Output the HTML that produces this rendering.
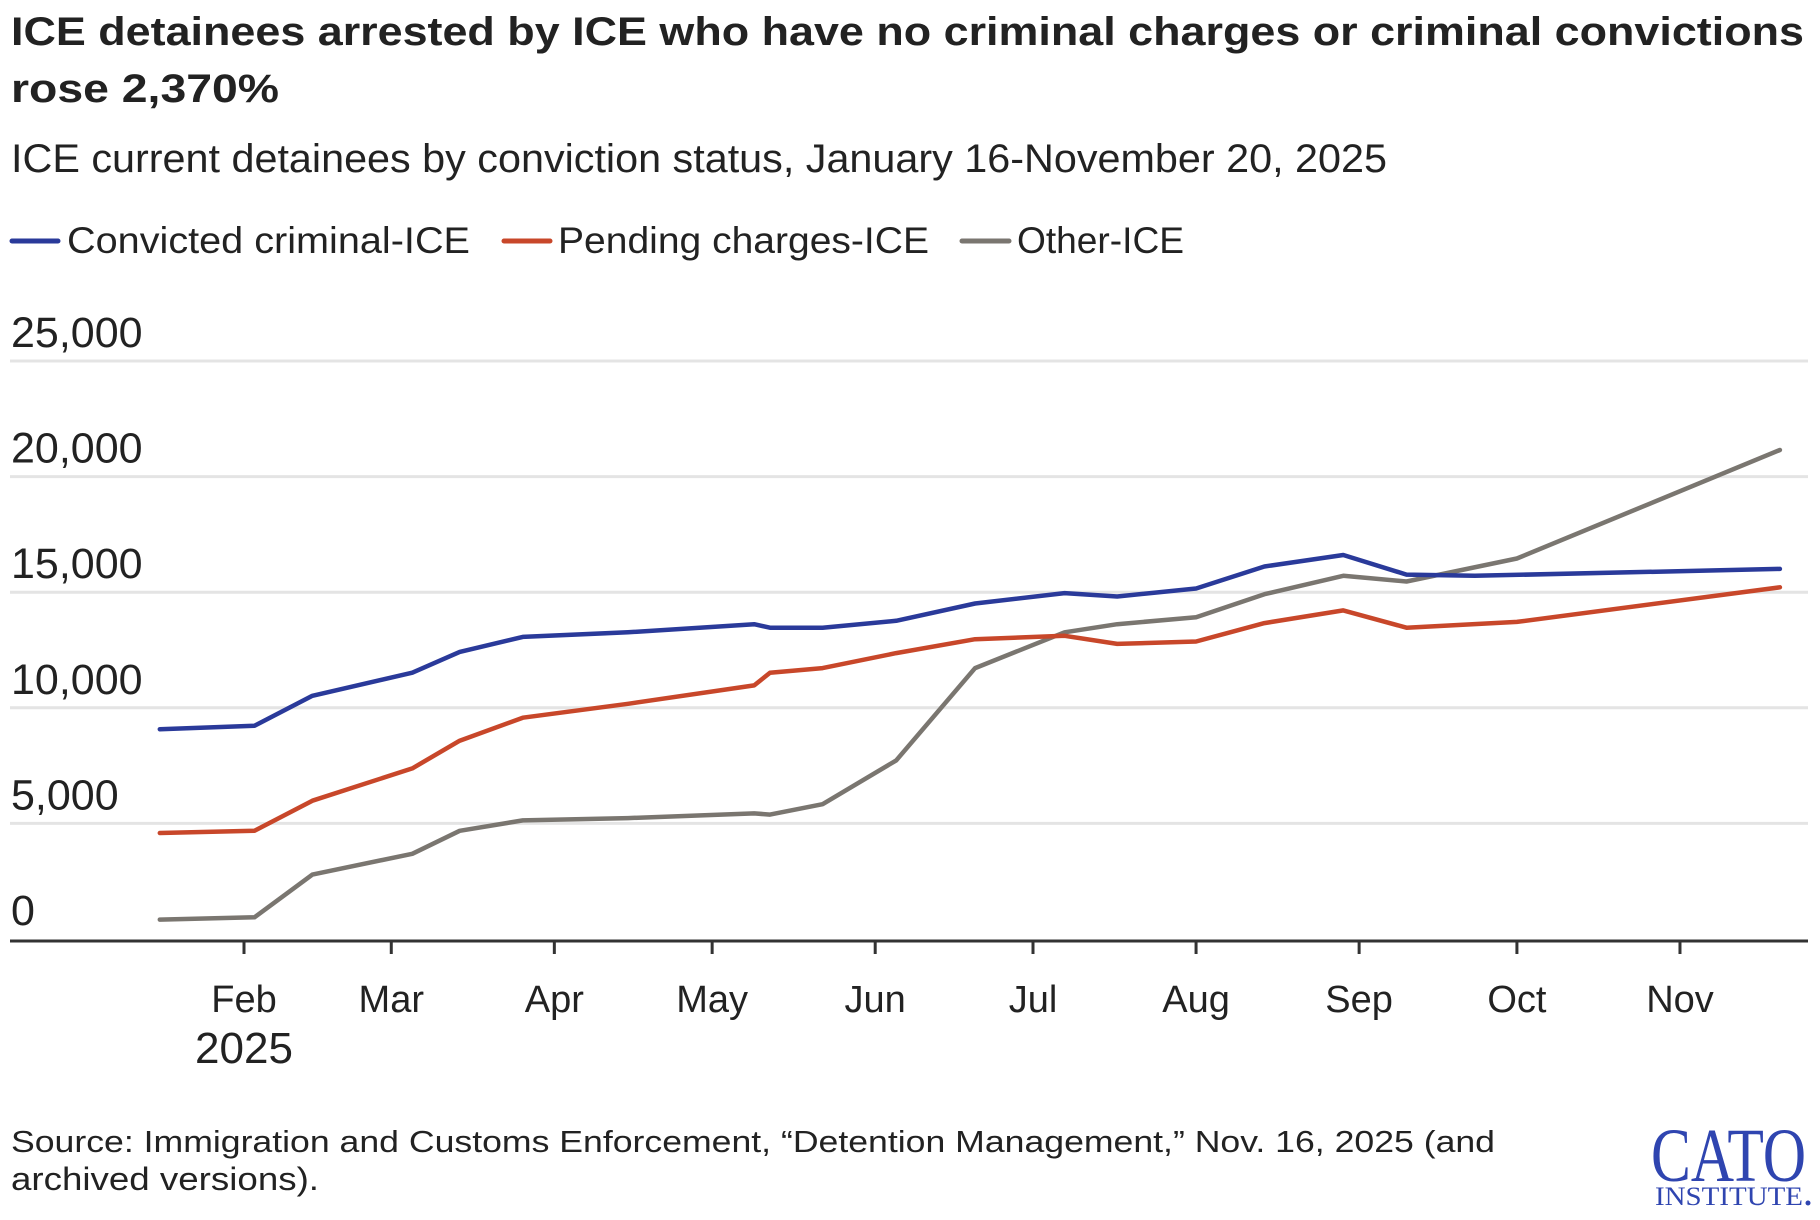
<!DOCTYPE html>
<html><head><meta charset="utf-8"><style>
html,body{margin:0;padding:0;background:#fff;}
svg{display:block;font-family:"Liberation Sans",sans-serif;}
</style></head><body>
<svg id="chart" width="1820" height="1220" viewBox="0 0 1820 1220">
<text x="11" y="45" font-size="40" font-weight="bold" fill="#222" textLength="1793" lengthAdjust="spacingAndGlyphs">ICE detainees arrested by ICE who have no criminal charges or criminal convictions</text>
<text x="11" y="102" font-size="40" font-weight="bold" fill="#222" textLength="268" lengthAdjust="spacingAndGlyphs">rose 2,370%</text>
<text x="11" y="172" font-size="40" fill="#222" textLength="1376" lengthAdjust="spacingAndGlyphs">ICE current detainees by conviction status, January 16-November 20, 2025</text>
<g>
<g><line x1="12" y1="241" x2="58" y2="241" stroke="#2a3a9a" stroke-width="5" stroke-linecap="round"/><text x="67" y="253" font-size="37" fill="#222" textLength="403" lengthAdjust="spacingAndGlyphs">Convicted criminal-ICE</text></g>
<g><line x1="504" y1="241" x2="550" y2="241" stroke="#c8472a" stroke-width="5" stroke-linecap="round"/><text x="558" y="253" font-size="37" fill="#222" textLength="371" lengthAdjust="spacingAndGlyphs">Pending charges-ICE</text></g>
<g><line x1="962" y1="241" x2="1009" y2="241" stroke="#7a7670" stroke-width="5" stroke-linecap="round"/><text x="1017" y="253" font-size="37" fill="#222" textLength="167" lengthAdjust="spacingAndGlyphs">Other-ICE</text></g>
</g>
<g id="grid"></g><g id="yaxis"></g><g id="xaxis"></g><g id="series"></g>
<text x="11" y="1152" font-size="31" fill="#222" textLength="1484" lengthAdjust="spacingAndGlyphs">Source: Immigration and Customs Enforcement, “Detention Management,” Nov. 16, 2025 (and</text>
<text x="11" y="1190" font-size="32" fill="#222" textLength="308" lengthAdjust="spacingAndGlyphs">archived versions).</text>
<g fill="#2f45b0" font-family="'Liberation Serif',serif">
<text x="1651" y="1181" font-size="76" textLength="155" lengthAdjust="spacingAndGlyphs">CATO</text>
<text x="1655" y="1205" font-size="26" textLength="148" lengthAdjust="spacingAndGlyphs">INSTITUTE</text>
<circle cx="1808" cy="1203" r="2.5"/>
</g>
</svg>
<script>
const days = [15,33,44,63,72,84,104,128,131,141,155,170,187,197,212,225,240,252,265,273,323];
const convicted = [9182,9331,10629,11627,12525,13174,13373,13723,13573,13573,13872,14621,15070,14920,15269,16218,16717,15868,15818,null,16118];
const pending = [4691,4790,6088,7485,8683,9681,10280,11078,11627,11826,12475,13074,13224,12874,12974,13772,14321,13573,null,13822,15319];
const other = [948,1048,2894,3792,4790,5240,5339,5539,5489,5938,7834,11826,13373,13723,14022,15020,15818,15569,null,16567,21257];
const yTicks = [0,5000,10000,15000,20000,25000];
const yTickLabels = ["0","5,000","10,000","15,000","20,000","25,000"];
const monthDays = [31,59,90,120,151,181,212,243,273,304];
const monthLabels = ["Feb","Mar","Apr","May","Jun","Jul","Aug","Sep","Oct","Nov"];

const NS="http://www.w3.org/2000/svg";
function x(d){return 244+(d-31)*5.26;}
function y(v){return 939-v*0.02312;}
function mk(tag,attrs,parent){const e=document.createElementNS(NS,tag);for(const k in attrs)e.setAttribute(k,attrs[k]);parent.appendChild(e);return e;}
const grid=document.getElementById('grid'),ya=document.getElementById('yaxis'),xa=document.getElementById('xaxis'),ser=document.getElementById('series');
yTicks.forEach((t,i)=>{
  if(t>0){const g=mk('line',{x1:10,x2:1808,y1:y(t),y2:y(t),stroke:'#e4e4e4','stroke-width':3},grid);
  
  }
  const l=mk('text',{x:11,y:y(t)-14,'font-size':43,fill:'#222'},ya);
  
  
  l.textContent=yTickLabels[i];
});
const ax=mk('line',{x1:10,x2:1808,y1:941,y2:941,stroke:'#333','stroke-width':3},xa);


monthDays.forEach((d,i)=>{
  const tk=mk('line',{x1:x(d),x2:x(d),y1:941,y2:954,stroke:'#333','stroke-width':3},xa);
  
  
  const t=mk('text',{x:x(d),y:1012,'font-size':38,fill:'#222','text-anchor':'middle'},xa);
  
  
  t.textContent=monthLabels[i];
});
const yr=mk('text',{x:x(31),y:1063,'font-size':44,fill:'#222','text-anchor':'middle'},xa);


yr.textContent='2025';
function draw(vals,color,name){
  const pts=[];vals.forEach((v,i)=>{if(v!==null)pts.push(x(days[i]).toFixed(1)+','+(y(v)+2.5).toFixed(1));});
  const p=mk('polyline',{points:pts.join(' '),fill:'none',stroke:color,'stroke-width':4.5,'stroke-linejoin':'round','stroke-linecap':'round'},ser);
  
  
}
draw(other,'#7a7670','line-other');
draw(pending,'#c8472a','line-pending-charges');
draw(convicted,'#2a3a9a','line-convicted-criminal');
</script>
</body></html>
